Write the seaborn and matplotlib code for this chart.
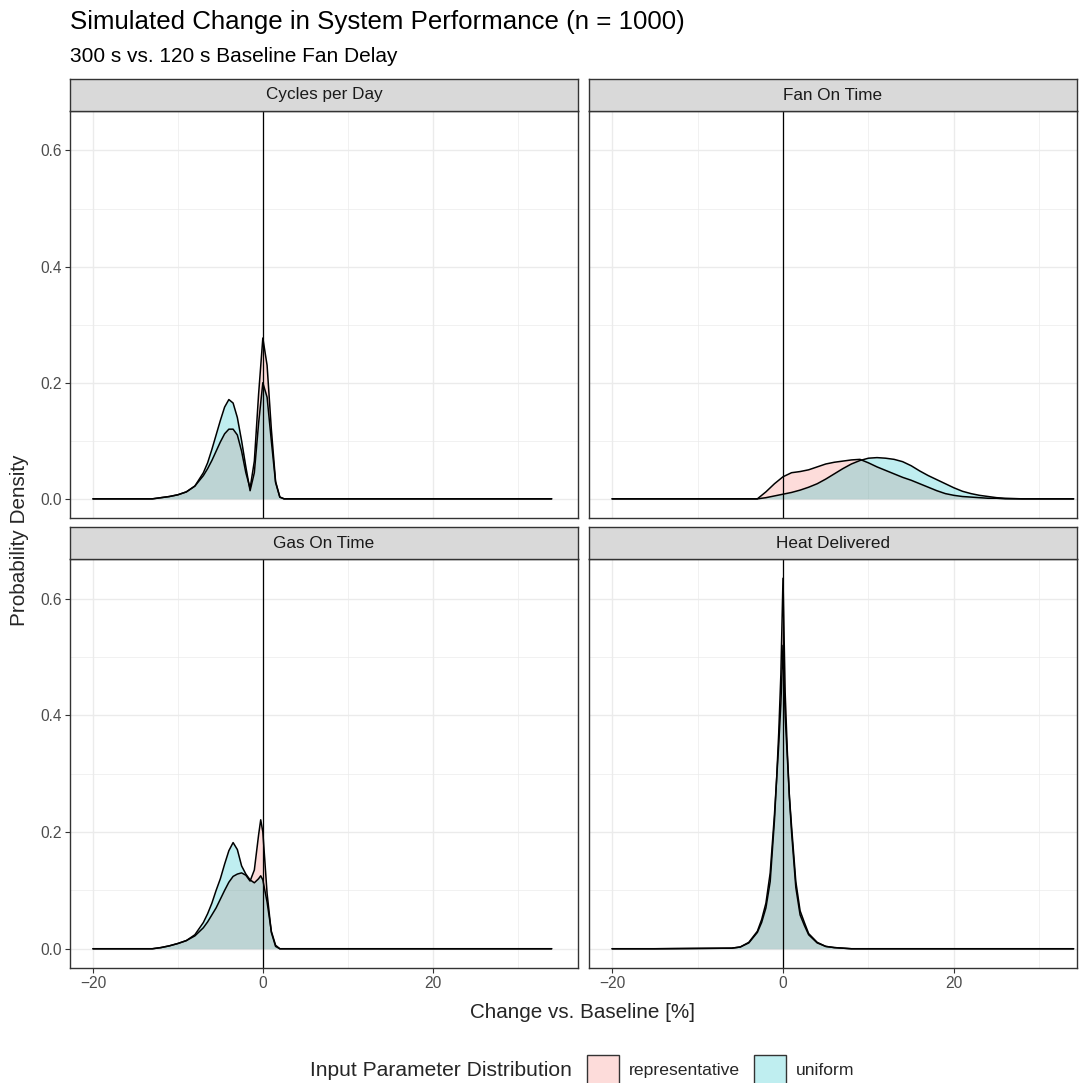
import matplotlib
matplotlib.use('Agg')
import matplotlib.pyplot as plt
import matplotlib.patches as mpatches
from matplotlib.colors import to_rgba
import pandas as pd
import seaborn as sns

# values (density curves per facet)
facets = ['Cycles per Day', 'Fan On Time', 'Gas On Time', 'Heat Delivered']
dists = ['representative', 'uniform']

cyc_x = [-20, -13, -12, -11, -10, -9, -8, -7, -6.5, -6, -5.5, -5, -4.5, -4, -3.5,
         -3, -2.5, -2, -1.5, -1, -0.5, 0, 0.5, 1, 1.5, 2, 2.5, 34]
cyc_rep = [0, 0, 0.002, 0.004, 0.007, 0.012, 0.022, 0.04, 0.052, 0.066, 0.082, 0.098,
           0.112, 0.12, 0.12, 0.11, 0.082, 0.045, 0.018, 0.065, 0.18, 0.277, 0.23,
           0.12, 0.03, 0.003, 0, 0]
cyc_uni = [0, 0, 0.002, 0.004, 0.007, 0.012, 0.022, 0.045, 0.062, 0.085, 0.11, 0.135,
           0.158, 0.171, 0.165, 0.14, 0.1, 0.055, 0.014, 0.045, 0.13, 0.2, 0.175,
           0.1, 0.028, 0.003, 0, 0]

fan_x = [-20, -3, -2, -1, 0, 1, 2, 3, 4, 5, 6, 7, 8, 9, 10, 11, 12, 13, 14, 15, 16,
         17, 18, 19, 20, 21, 22, 23, 24, 25, 26, 27, 28, 34]
fan_rep = [0, 0, 0.012, 0.026, 0.038, 0.045, 0.047, 0.05, 0.055, 0.06, 0.063, 0.065,
           0.067, 0.068, 0.062, 0.055, 0.049, 0.043, 0.037, 0.032, 0.026, 0.02, 0.014,
           0.009, 0.006, 0.004, 0.003, 0.002, 0.001, 0.001, 0, 0, 0, 0]
fan_uni = [0, 0, 0.002, 0.005, 0.008, 0.011, 0.015, 0.02, 0.026, 0.034, 0.043, 0.052,
           0.06, 0.066, 0.07, 0.071, 0.07, 0.068, 0.064, 0.057, 0.048, 0.04, 0.033,
           0.026, 0.019, 0.013, 0.009, 0.006, 0.004, 0.002, 0.001, 0.0005, 0, 0]

gas_x = [-20, -13, -12, -11, -10, -9, -8, -7, -6.5, -6, -5.5, -5, -4.5, -4, -3.5,
         -3, -2.5, -2, -1.5, -1, -0.5, -0.25, 0, 0.5, 1, 1.5, 2, 34]
gas_rep = [0, 0, 0.002, 0.005, 0.009, 0.014, 0.022, 0.036, 0.046, 0.058, 0.07, 0.085,
           0.1, 0.114, 0.124, 0.128, 0.13, 0.126, 0.116, 0.135, 0.195, 0.221, 0.2,
           0.095, 0.028, 0.004, 0, 0]
gas_uni = [0, 0, 0.002, 0.005, 0.009, 0.014, 0.024, 0.045, 0.06, 0.078, 0.1, 0.12,
           0.145, 0.168, 0.182, 0.17, 0.142, 0.128, 0.118, 0.113, 0.12, 0.125, 0.118,
           0.08, 0.03, 0.006, 0, 0]

heat_x = [-20, -15, -6, -5, -4, -3, -2.5, -2, -1.5, -1, -0.75, -0.5, -0.25, 0, 0.25,
          0.5, 0.75, 1, 1.5, 2, 2.5, 3, 4, 5, 6, 8, 34]
heat_rep = [0, 0, 0.001, 0.003, 0.01, 0.028, 0.045, 0.07, 0.115, 0.22, 0.29, 0.37,
            0.47, 0.635, 0.44, 0.34, 0.26, 0.2, 0.105, 0.058, 0.04, 0.024, 0.01,
            0.004, 0.002, 0, 0]
heat_uni = [0, 0, 0.001, 0.003, 0.011, 0.03, 0.05, 0.078, 0.13, 0.23, 0.29, 0.35,
            0.42, 0.52, 0.4, 0.33, 0.26, 0.21, 0.115, 0.065, 0.045, 0.026, 0.011,
            0.004, 0.002, 0, 0]

curves = {
    'Cycles per Day': (cyc_x, cyc_rep, cyc_uni),
    'Fan On Time': (fan_x, fan_rep, fan_uni),
    'Gas On Time': (gas_x, gas_rep, gas_uni),
    'Heat Delivered': (heat_x, heat_rep, heat_uni),
}

rows = []
for f in facets:
    xs, rep, uni = curves[f]
    for d, ys in zip(dists, (rep, uni)):
        for x, y in zip(xs, ys):
            rows.append({'facet': f, 'dist': d, 'change': x, 'density': y})
df = pd.DataFrame(rows)

fills = {'representative': '#F8766D', 'uniform': '#00BFC4'}

sns.set_theme(style='white')
plt.rcParams['font.family'] = ['Liberation Sans', 'DejaVu Sans']

W, H = 1089, 1083
fig = plt.figure(figsize=(W / 100, H / 100), dpi=100)

# panel boxes in pixels: (left, top, right, bottom)
boxes = {
    'Cycles per Day': (70, 111, 578, 518),
    'Fan On Time': (589, 111, 1077, 518),
    'Gas On Time': (70, 559, 578, 968),
    'Heat Delivered': (589, 559, 1077, 968),
}
xlims = {'Cycles per Day': (-22.7, 37.1), 'Gas On Time': (-22.7, 37.1),
         'Fan On Time': (-22.7, 34.4), 'Heat Delivered': (-22.7, 34.4)}

for f in facets:
    l, t, r, b = boxes[f]
    ax = fig.add_axes([l / W, 1 - b / H, (r - l) / W, (b - t) / H])
    sub = df[df.facet == f]
    for d in dists:
        s = sub[sub.dist == d]
        ax.fill_between(s.change, 0, s.density, color=fills[d], alpha=0.25, lw=0)
        sns.lineplot(data=s, x='change', y='density', color='black', lw=1.1,
                     estimator=None, sort=False, ax=ax, legend=False)
    ax.axvline(0, color='black', lw=0.9)
    ax.set_xlim(*xlims[f])
    ax.set_ylim(-0.033, 0.668)
    ax.set_xticks([-20, 0, 20])
    ax.set_xticks([-10, 10, 30], minor=True)
    ax.set_yticks([0, 0.2, 0.4, 0.6])
    ax.set_yticks([0.1, 0.3, 0.5], minor=True)
    ax.grid(True, which='major', color='#EBEBEB', lw=1.0)
    ax.grid(True, which='minor', color='#EBEBEB', lw=0.5)
    ax.set_axisbelow(True)
    ax.set_xlabel('')
    ax.set_ylabel('')
    for sp in ax.spines.values():
        sp.set_color('#333333')
        sp.set_linewidth(1.0)
    ax.tick_params(which='major', length=3.5, width=0.8, color='#333333',
                   labelsize=11.2, labelcolor='#4D4D4D', pad=2,
                   bottom=f in ('Gas On Time', 'Heat Delivered'),
                   labelbottom=f in ('Gas On Time', 'Heat Delivered'),
                   left=f in ('Cycles per Day', 'Gas On Time'),
                   labelleft=f in ('Cycles per Day', 'Gas On Time'))
    ax.tick_params(which='minor', length=0)
    ax.set_yticklabels(['0.0', '0.2', '0.4', '0.6'])

    # facet strip
    sax = fig.add_axes([l / W, 1 - t / H, (r - l) / W, 32 / H])
    sax.set_facecolor('#D9D9D9')
    sax.set_xticks([])
    sax.set_yticks([])
    for sp in sax.spines.values():
        sp.set_color('#333333')
        sp.set_linewidth(1.0)
    sax.text(0.5, 0.5, f, ha='center', va='center', fontsize=12.3,
             color='#1A1A1A', transform=sax.transAxes)

fig.text(70 / W, 1 - 22 / H, 'Simulated Change in System Performance (n = 1000)',
         fontsize=18.6, ha='left', va='center', color='black')
fig.text(70 / W, 1 - 57 / H, '300 s vs. 120 s Baseline Fan Delay',
         fontsize=15, ha='left', va='center', color='black')
fig.text(583 / W, 1 - 1012 / H, 'Change vs. Baseline [%]', fontsize=14.9,
         ha='center', va='center')
fig.text(20 / W, 1 - 540 / H, 'Probability Density', fontsize=14.9,
         ha='center', va='center', rotation=90)

# legend at the bottom, title on the left
fig.text(310 / W, 1 - 1070 / H, 'Input Parameter Distribution', fontsize=15.1,
         ha='left', va='center')
handles = [mpatches.Patch(facecolor=to_rgba(fills[d], 0.25), edgecolor='#333333',
                          lw=1.0) for d in dists]
leg = fig.legend(handles, dists, loc='center left',
                 bbox_to_anchor=(587 / W, 1 - 1070 / H), ncol=2, frameon=False,
                 fontsize=12.6, handlelength=1.8, handleheight=2.3,
                 handletextpad=0.6, columnspacing=0.8, borderpad=0,
                 borderaxespad=0)

fig.savefig('out.png', dpi=100)
